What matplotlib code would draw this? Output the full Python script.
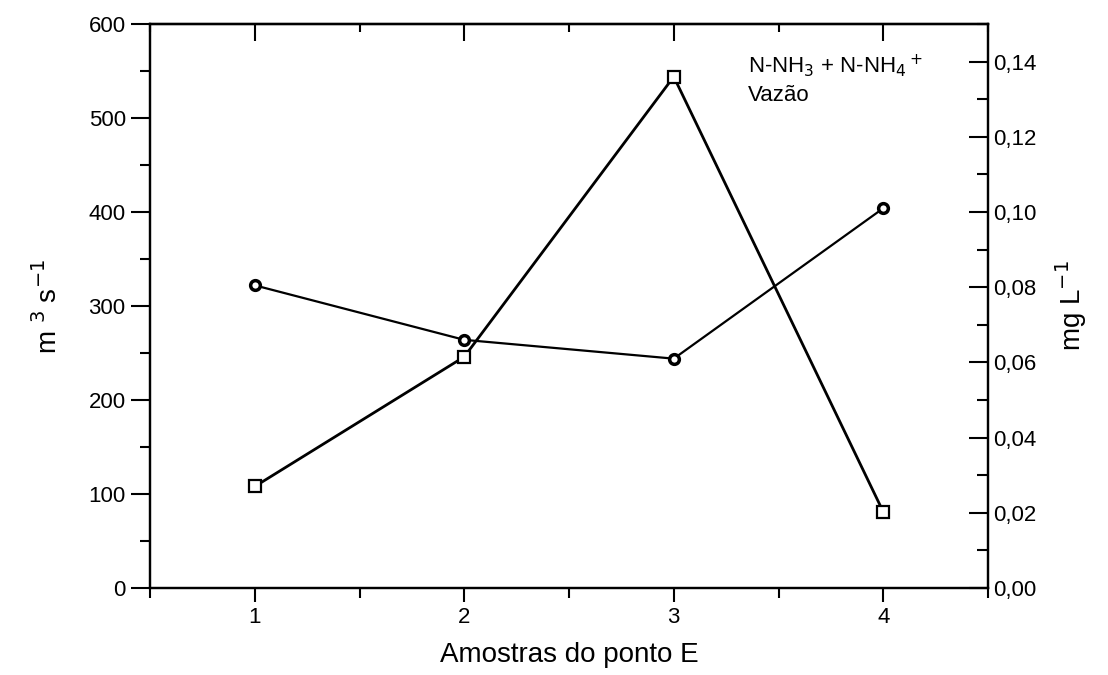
import matplotlib
matplotlib.use('Agg')
import matplotlib.pyplot as plt
from matplotlib.ticker import MultipleLocator, FuncFormatter

plt.rcParams['font.family'] = ['Liberation Sans', 'DejaVu Sans']

# Dados
amostras = [1, 2, 3, 4]
vazao = [108, 246, 544, 81]                 # m3 s-1 (quadrados)
nh = [0.0805, 0.066, 0.061, 0.101]          # mg L-1 (círculos)

fig = plt.figure(figsize=(11.08, 6.75), dpi=100)
ax1 = fig.add_axes([0.1354, 0.1289, 0.7563, 0.8355])
ax2 = ax1.twinx()

ax1.plot(amostras, vazao, color='black', lw=2.0, marker='s', ms=9,
         mfc='white', mec='black', mew=1.6, label='Vazão', zorder=3)
ax2.plot(amostras, nh, color='black', lw=1.6, marker='o', ms=7,
         mfc='white', mec='black', mew=2.5, label='N-NH$_3$ + N-NH$_4$$^+$', zorder=3)

ax1.set_xlim(0.5, 4.5)
ax1.set_ylim(0, 600)
ax2.set_ylim(0, 0.15)

ax1.xaxis.set_major_locator(MultipleLocator(1))
ax1.xaxis.set_minor_locator(MultipleLocator(0.5))
ax1.yaxis.set_major_locator(MultipleLocator(100))
ax1.yaxis.set_minor_locator(MultipleLocator(50))
ax2.yaxis.set_major_locator(MultipleLocator(0.02))
ax2.yaxis.set_minor_locator(MultipleLocator(0.01))
ax2.yaxis.set_major_formatter(FuncFormatter(lambda v, p: f'{v:.2f}'.replace('.', ',')))

ax1.tick_params(axis='y', which='major', direction='out', length=14, width=1.5, labelsize=16)
ax1.tick_params(axis='y', which='minor', direction='out', length=7, width=1.5)
ax1.tick_params(axis='x', which='major', direction='out', length=10, width=1.5, labelsize=16)
ax1.tick_params(axis='x', which='minor', direction='out', length=7, width=1.5)
ax2.tick_params(axis='y', which='major', direction='in', length=14, width=1.5, labelsize=16)
ax2.tick_params(axis='y', which='minor', direction='in', length=8, width=1.5)

# marcas internas no eixo de cima
top = ax1.secondary_xaxis('top')
top.xaxis.set_major_locator(MultipleLocator(1))
top.xaxis.set_minor_locator(MultipleLocator(0.5))
top.tick_params(which='major', direction='in', length=12, width=1.5, labeltop=False)
top.tick_params(which='minor', direction='in', length=6, width=1.5)
top.spines['top'].set_linewidth(1.6)

for ax in (ax1, ax2):
    for s in ax.spines.values():
        s.set_linewidth(1.6)

ax1.set_xlabel('Amostras do ponto E', fontsize=20, labelpad=10)
ax1.set_ylabel('m $^{3}$ s$^{-1}$', fontsize=20, labelpad=18)
ax2.set_ylabel('mg L$^{-1}$', fontsize=20, labelpad=12)

# legenda (os símbolos não aparecem no original)
h1, l1 = ax2.get_legend_handles_labels()
h2, l2 = ax1.get_legend_handles_labels()
leg = ax2.legend(h1 + h2, l1 + l2, loc='upper left', bbox_to_anchor=(0.69, 0.985),
                 frameon=False, fontsize=16, handlelength=0, handletextpad=0,
                 labelspacing=0.25, markerscale=0)
for h in leg.legend_handles:
    h.set_visible(False)

fig.savefig('out.png', dpi=100)
